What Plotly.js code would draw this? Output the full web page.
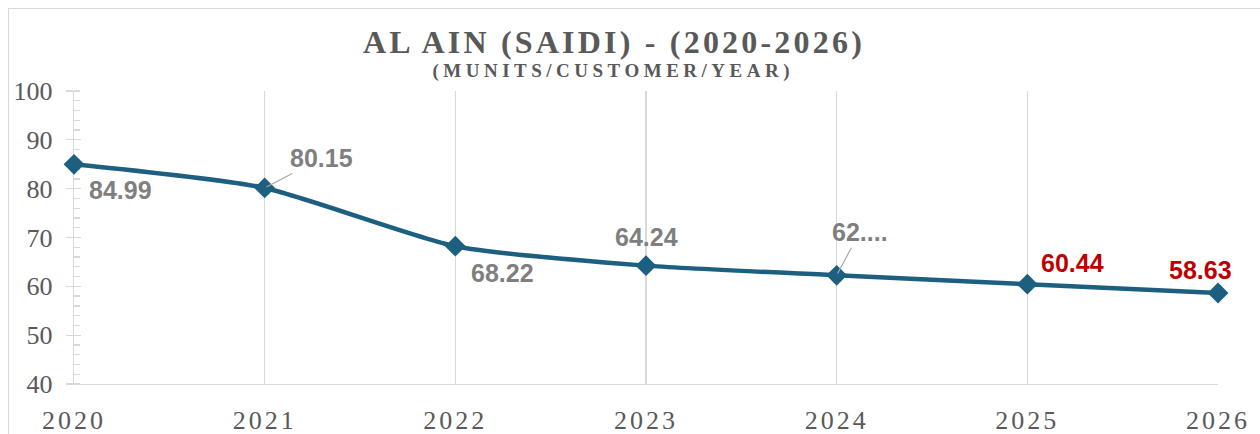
<!DOCTYPE html>
<html><head><meta charset="utf-8">
<script src="https://cdn.plot.ly/plotly-3.0.1.min.js"></script>
<style>
body{margin:0;background:#fff;}
#frame{position:absolute;left:8px;top:8px;width:1270px;height:440px;border:1px solid #d9d9d9;pointer-events:none;z-index:5;}
.gtitle{letter-spacing:3.2px;}
.xtick text{letter-spacing:3px;}
.sub text{letter-spacing:4.5px;}
</style>
</head><body>
<div id="frame"></div>
<div id="chart" style="width:1260px;height:434px;"></div>
<script>
const years = [2020, 2021, 2022, 2023, 2024, 2025, 2026];
const saidi = [84.99, 80.15, 68.22, 64.24, 62.26, 60.44, 58.63];
const labelTexts = ['84.99', '80.15', '68.22', '64.24', '62....', '60.44', '58.63'];
const labelColors = ['#7f7f7f', '#7f7f7f', '#7f7f7f', '#7f7f7f', '#7f7f7f', '#c00000', '#c00000'];
// label offsets in px (dx, dy) and whether a leader line is drawn
const labelOffsets = [[46, 26, false], [57, -30, true], [47, 27, false], [0, -29, false], [23, -43, true], [45, -21, false], [-18, -23, false]];

const trace = {
  x: years, y: saidi, type: 'scatter', mode: 'lines+markers',
  line: {color: '#1d5f80', width: 4.5, shape: 'spline', smoothing: 0.6},
  marker: {symbol: 'diamond', size: 16, color: '#1d5f80'},
  cliponaxis: false, hoverinfo: 'skip'
};
const trace2 = {x: years, y: saidi, yaxis: 'y2', type: 'scatter', mode: 'none', hoverinfo: 'skip', showlegend: false};

const annotations = years.map((yr, i) => {
  const [dx, dy, lead] = labelOffsets[i];
  const a = {x: yr, y: saidi[i], xref: 'x', yref: 'y', text: '<b>' + labelTexts[i] + '</b>',
    font: {family: 'Liberation Sans, Arial, sans-serif', size: 25, color: labelColors[i]}};
  if (lead) {
    Object.assign(a, {showarrow: true, arrowhead: 0, arrowwidth: 1.2, arrowcolor: '#a6a6a6', ax: dx, ay: dy, standoff: 2});
  } else {
    Object.assign(a, {showarrow: false, xshift: dx, yshift: -dy});
  }
  return a;
});
annotations.push({xref: 'paper', yref: 'paper', x: 0.472, y: (384 - 71) / 293, yanchor: 'middle', showarrow: false,
  text: '<b>(MUNITS/CUSTOMER/YEAR)</b>', font: {family: 'Liberation Serif, Times New Roman, serif', size: 19, color: '#595959'}});

const layout = {
  width: 1260, height: 434,
  margin: {l: 74, r: 42, t: 91, b: 50},
  paper_bgcolor: '#ffffff', plot_bgcolor: '#ffffff',
  showlegend: false,
  title: {text: '<b>AL AIN (SAIDI) - (2020-2026)</b>', x: 614 / 1260, xanchor: 'center', y: 1 - 42 / 434, yanchor: 'middle',
    font: {family: 'Liberation Serif, Times New Roman, serif', size: 32, color: '#595959'}},
  xaxis: {range: [2020, 2026], tickvals: years, ticktext: years.map(String), showgrid: true, gridcolor: '#d9d9d9', gridwidth: 1.3,
    showline: true, linecolor: '#d9d9d9', linewidth: 1.3, zeroline: false, ticks: '', ticklabelstandoff: 12, layer: 'below traces',
    tickfont: {family: 'Liberation Serif, Times New Roman, serif', size: 26, color: '#595959'}},
  yaxis: {range: [40, 100], dtick: 10, showgrid: false, showline: true, linecolor: '#d9d9d9', linewidth: 1.3, zeroline: false,
    ticks: 'outside', ticklen: 7, tickcolor: '#d9d9d9', tickwidth: 1.3, ticklabelstandoff: 8, layer: 'below traces',
    minor: {dtick: 2, ticks: 'inside', ticklen: 6, tickcolor: '#d9d9d9', tickwidth: 1.3},
    tickfont: {family: 'Liberation Serif, Times New Roman, serif', size: 26, color: '#595959'}},
  yaxis2: {overlaying: 'y', matches: 'y', side: 'left', showticklabels: false, showline: false, showgrid: false, zeroline: false,
    ticks: 'inside', ticklen: 7, tickcolor: '#d9d9d9', tickwidth: 1.3, dtick: 10, layer: 'below traces'},
  annotations: annotations
};
Plotly.newPlot('chart', [trace2, trace], layout, {staticPlot: true}).then(() => {
  const anns = document.querySelectorAll('.annotation');
  if (anns.length) anns[anns.length - 1].classList.add('sub');
});
</script>
</body></html>
